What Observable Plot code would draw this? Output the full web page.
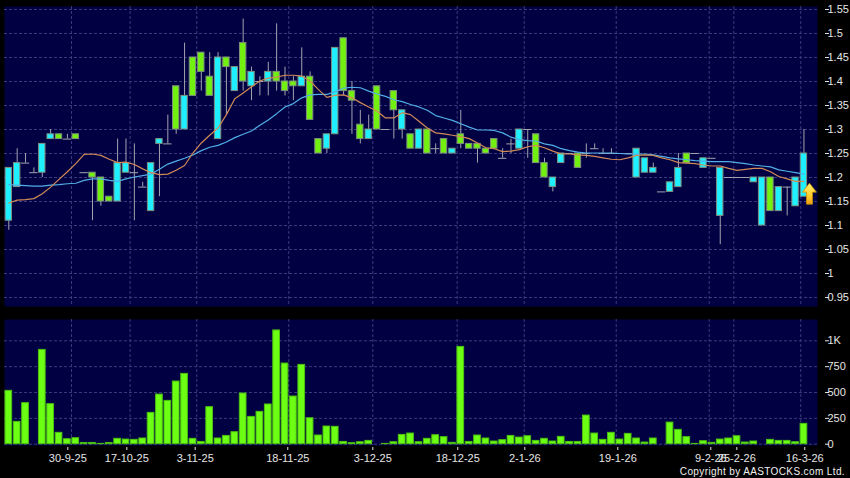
<!DOCTYPE html>
<html>
<head>
<meta charset="utf-8">
<script src="https://cdn.jsdelivr.net/npm/d3@7"></script>
<script src="https://cdn.jsdelivr.net/npm/@observablehq/plot@0.6"></script>
<style>
html,body{margin:0;padding:0;background:#000;width:850px;height:478px;overflow:hidden}
svg{display:block}
#defs{position:absolute;width:0;height:0}
#copy{position:absolute;right:5px;top:466px;font:10px "Liberation Sans",Arial,sans-serif;letter-spacing:0.38px;color:#f0f0f0;white-space:nowrap}
</style>
</head>
<body>
<svg id="defs"><defs><linearGradient id="arrowFill" x1="0" y1="0" x2="0" y2="1"><stop offset="0" stop-color="#fff070"/><stop offset="0.55" stop-color="#ffcf30"/><stop offset="1" stop-color="#f0a010"/></linearGradient></defs></svg>
<div id="price"></div>
<div id="volume"></div>
<div id="copy">Copyright by AASTOCKS.com Ltd.</div>
<script>
// c = cyan body, g = green body, d = flat (open equals close)
const kinds = ["c","c","d","d","c","c","g","d","g","d","g","g","g","c","c","d","d","c","c","d","g","c","g","g","g","c","g","c","g","c","d","c","g","g","g","c","g","g","c","c","g","g","g","c","g","d","g","c","g","c","g","d","g","c","g","g","g","g","g","d","d","c","d","g","g","c","c","d","g","d","d","d","d","d","d","c","c","c","d","c","c","g","d","c","d","c","d","d","d","c","c","g","c","d","c","c"];
const bodyTop = [1.22,1.23,1.23,1.21,1.27,1.29,1.29,1.28,1.29,1.21,1.21,1.20,1.16,1.23,1.23,1.21,1.18,1.23,1.28,1.27,1.39,1.37,1.45,1.46,1.41,1.45,1.45,1.43,1.48,1.42,1.40,1.42,1.42,1.40,1.40,1.41,1.41,1.28,1.29,1.47,1.49,1.38,1.31,1.30,1.39,1.30,1.38,1.34,1.29,1.30,1.30,1.26,1.28,1.26,1.29,1.27,1.27,1.26,1.28,1.24,1.27,1.30,1.30,1.29,1.23,1.20,1.25,1.25,1.25,1.25,1.26,1.25,1.25,1.25,1.25,1.26,1.24,1.22,1.17,1.19,1.22,1.25,1.25,1.24,1.24,1.22,1.20,1.20,1.20,1.20,1.20,1.20,1.18,1.18,1.20,1.25];
const bodyBottom = [1.11,1.18,1.23,1.21,1.21,1.28,1.28,1.28,1.28,1.21,1.20,1.15,1.15,1.15,1.21,1.21,1.18,1.13,1.27,1.27,1.30,1.30,1.37,1.42,1.37,1.28,1.43,1.38,1.40,1.39,1.40,1.40,1.40,1.38,1.39,1.39,1.32,1.25,1.26,1.29,1.38,1.36,1.28,1.28,1.30,1.30,1.34,1.30,1.26,1.26,1.25,1.26,1.25,1.25,1.27,1.26,1.26,1.25,1.26,1.24,1.27,1.26,1.30,1.23,1.20,1.18,1.23,1.25,1.22,1.25,1.26,1.25,1.25,1.25,1.25,1.20,1.21,1.21,1.17,1.17,1.18,1.23,1.25,1.22,1.24,1.12,1.20,1.20,1.20,1.19,1.10,1.13,1.13,1.18,1.14,1.16];
const highs = [1.22,1.26,1.25,1.22,1.27,1.30,1.29,1.29,1.29,1.21,1.21,1.20,1.16,1.28,1.28,1.27,1.19,1.23,1.28,1.33,1.39,1.48,1.45,1.46,1.46,1.46,1.45,1.43,1.53,1.43,1.41,1.44,1.52,1.43,1.41,1.47,1.42,1.28,1.29,1.47,1.49,1.40,1.34,1.33,1.39,1.30,1.38,1.34,1.29,1.30,1.30,1.27,1.28,1.26,1.34,1.27,1.27,1.26,1.28,1.26,1.28,1.30,1.30,1.29,1.24,1.20,1.25,1.25,1.25,1.27,1.27,1.26,1.26,1.25,1.25,1.26,1.24,1.23,1.17,1.19,1.25,1.25,1.25,1.24,1.24,1.22,1.20,1.20,1.20,1.20,1.20,1.20,1.18,1.18,1.20,1.30];
const lows = [1.09,1.18,1.23,1.21,1.20,1.28,1.28,1.28,1.28,1.21,1.11,1.14,1.15,1.15,1.21,1.11,1.18,1.13,1.16,1.27,1.29,1.30,1.37,1.38,1.37,1.28,1.33,1.38,1.38,1.36,1.37,1.37,1.38,1.37,1.36,1.39,1.32,1.25,1.25,1.29,1.37,1.29,1.27,1.28,1.30,1.30,1.28,1.28,1.26,1.26,1.25,1.25,1.25,1.25,1.26,1.26,1.23,1.25,1.26,1.24,1.25,1.26,1.24,1.23,1.20,1.17,1.23,1.25,1.22,1.24,1.26,1.25,1.25,1.25,1.25,1.20,1.21,1.21,1.17,1.17,1.18,1.23,1.25,1.22,1.24,1.06,1.20,1.20,1.20,1.19,1.10,1.13,1.13,1.12,1.14,1.16];
const maShort = [1.147,1.153,1.154,1.156,1.166,1.18,1.196,1.212,1.229,1.248,1.249,1.246,1.238,1.231,1.232,1.227,1.218,1.21,1.206,1.207,1.215,1.225,1.251,1.272,1.288,1.303,1.331,1.364,1.376,1.389,1.401,1.407,1.409,1.413,1.413,1.411,1.401,1.383,1.367,1.371,1.372,1.366,1.356,1.347,1.338,1.324,1.324,1.335,1.331,1.317,1.303,1.293,1.291,1.288,1.285,1.281,1.272,1.262,1.26,1.254,1.255,1.258,1.264,1.267,1.262,1.255,1.249,1.249,1.247,1.246,1.244,1.241,1.238,1.237,1.241,1.246,1.247,1.246,1.241,1.237,1.231,1.23,1.229,1.226,1.224,1.224,1.219,1.215,1.217,1.219,1.219,1.212,1.202,1.197,1.192,1.192];
const maLong = [1.185,1.184,1.183,1.182,1.182,1.184,1.185,1.187,1.188,1.194,1.197,1.197,1.194,1.192,1.197,1.201,1.204,1.207,1.217,1.228,1.234,1.24,1.247,1.256,1.263,1.267,1.274,1.283,1.29,1.297,1.309,1.32,1.333,1.347,1.354,1.366,1.372,1.373,1.373,1.379,1.386,1.388,1.387,1.38,1.374,1.369,1.362,1.358,1.352,1.347,1.34,1.329,1.324,1.319,1.312,1.305,1.299,1.299,1.298,1.293,1.284,1.279,1.277,1.276,1.27,1.267,1.26,1.256,1.253,1.251,1.251,1.251,1.251,1.25,1.249,1.249,1.249,1.247,1.244,1.241,1.239,1.237,1.235,1.234,1.233,1.233,1.233,1.231,1.229,1.226,1.224,1.222,1.216,1.213,1.21,1.207];
const volumes = [516,216,397,0,912,387,110,48,58,12,12,3,12,52,45,42,55,303,480,419,606,680,52,22,358,55,80,116,490,264,313,384,1100,780,461,767,251,84,171,168,22,10,19,32,0,3,19,90,103,19,52,87,68,13,941,22,84,55,26,39,80,64,77,32,52,26,71,22,22,277,103,42,110,45,100,55,16,55,0,209,139,68,3,29,13,45,55,77,16,26,0,42,32,32,19,197];
const priceTicks = [0.95,1,1.05,1.1,1.15,1.2,1.25,1.3,1.35,1.4,1.45,1.5,1.55];
const volumeTicks = [0,250,500,750,1000];
const volumeTickLabels = ["0","250","500","750","1K"];
const gridSlots = [7.49,14.49,22.46,33.45,43.49,53.57,61.58,72.57,83.68,86.62,94.62];
const dateSlots = [7.05,14.1,22.27,33.33,43.49,53.64,61.65,72.76,83.87,86.98,95.1];
const dateLabels = ["30-9-25","17-10-25","3-11-25","18-11-25","3-12-25","18-12-25","2-1-26","19-1-26","9-2-26","25-2-26","16-3-26"];
const arrowAt = [{slot:95.66, price:1.1664}];

const rows = kinds.map((k,i)=>({i,k,top:bodyTop[i],bot:bodyBottom[i],hi:highs[i],lo:lows[i],s:maShort[i],l:maLong[i],v:volumes[i]}));
const navy = "#000042", gridC = "#3a3a7e", wick = "#a4a4b0", textC = "#e6e6e6";
const fontF = '"Liberation Sans",Arial,sans-serif';
const xDomain = [-0.514, 96.62];
const upArrow = {draw(ctx, size){
  const r = Math.sqrt(size/Math.PI);
  const u = r/10;
  ctx.moveTo(0,-10.5*u);
  ctx.lineTo(7*u,-1.5*u);
  ctx.lineTo(3*u,-1.5*u);
  ctx.lineTo(3*u,10.5*u);
  ctx.lineTo(-3*u,10.5*u);
  ctx.lineTo(-3*u,-1.5*u);
  ctx.lineTo(-7*u,-1.5*u);
  ctx.closePath();
}};

const pricePlot = Plot.plot({
  width:850, height:312, marginLeft:4, marginRight:33, marginTop:6, marginBottom:6,
  style:{background:"#000",fontFamily:fontF,fontSize:"11px",color:textC,overflow:"visible"},
  x:{type:"linear",domain:xDomain,axis:null},
  y:{type:"linear",domain:[0.9313,1.5562],axis:null},
  marks:[
    Plot.frame({fill:navy,stroke:"none"}),
    Plot.gridX(gridSlots,{stroke:gridC,strokeOpacity:1,strokeDasharray:"3,2"}),
    Plot.gridY(priceTicks,{stroke:gridC,strokeOpacity:1,strokeDasharray:"3,2"}),
    Plot.ruleX(rows,{x:"i",y1:"lo",y2:"hi",stroke:wick}),
    Plot.ruleY(rows.filter(d=>d.k==="d"),{y:"top",x1:d=>d.i-0.5,x2:d=>d.i+0.5,stroke:wick}),
    Plot.rect(rows.filter(d=>d.k!=="d"),{x1:d=>d.i-0.38,x2:d=>d.i+0.38,y1:"bot",y2:"top",
      fill:d=>d.k==="c"?"#1ff0ff":"#72f010",stroke:"#7f8f80",strokeWidth:1}),
    Plot.line(rows,{x:"i",y:"l",stroke:"#52aee6",strokeWidth:1.2}),
    Plot.line(rows,{x:"i",y:"s",stroke:"#d08a58",strokeWidth:1.2}),
    Plot.dot(arrowAt,{x:"slot",y:"price",r:10,symbol:upArrow,fill:"url(#arrowFill)",stroke:"#c89000",strokeWidth:0.8}),
    Plot.axisY(priceTicks,{anchor:"right",tickSize:4,tickPadding:-1,dx:7,stroke:textC,fill:textC,
      tickFormat:d=>String(d),label:null})
  ]
});
document.getElementById("price").append(pricePlot);

const volPlot = Plot.plot({
  width:850, height:166, marginLeft:4, marginRight:33, marginTop:7, marginBottom:33,
  style:{background:"#000",fontFamily:fontF,fontSize:"11px",color:textC,overflow:"visible"},
  x:{type:"linear",domain:xDomain,axis:null},
  y:{type:"linear",domain:[-12.6,1206],axis:null},
  marks:[
    Plot.frame({fill:navy,stroke:"none"}),
    Plot.gridX(gridSlots,{stroke:gridC,strokeOpacity:1,strokeDasharray:"3,2"}),
    Plot.gridY(volumeTicks,{stroke:gridC,strokeOpacity:1,strokeDasharray:"3,2"}),
    Plot.rect(rows.filter(d=>d.v>0),{x1:d=>d.i-0.4,x2:d=>d.i+0.4,y1:0,y2:"v",fill:"#6cff14",stroke:"#4cc010",strokeWidth:1}),
    Plot.axisY(volumeTicks,{anchor:"right",tickSize:4,tickPadding:-1,dx:7,stroke:textC,fill:textC,
      tickFormat:d=>volumeTickLabels[volumeTicks.indexOf(d)],label:null}),
    Plot.axisX(dateSlots,{anchor:"bottom",tickSize:3,tickPadding:4,dy:2,stroke:textC,fill:textC,
      tickFormat:d=>dateLabels[dateSlots.indexOf(d)],label:null})
  ]
});
document.getElementById("volume").append(volPlot);
</script>
</body>
</html>
